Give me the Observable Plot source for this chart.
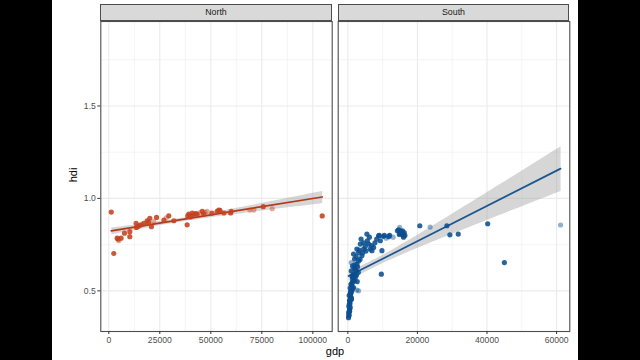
<!DOCTYPE html>
<html><head><meta charset="utf-8">
<script src="https://cdn.jsdelivr.net/npm/d3@7"></script>
<script src="https://cdn.jsdelivr.net/npm/@observablehq/plot@0.6"></script>
<style>
html,body{margin:0;padding:0;background:#000;width:640px;height:360px;overflow:hidden;font-family:"Liberation Sans",Arial,sans-serif;}
#page{position:absolute;left:52px;top:0;width:526px;height:360px;background:#fff;}
.strip{position:absolute;top:4px;height:17px;background:#d9d9d9;border:1px solid #4d4d4d;box-sizing:border-box;font-size:8.8px;color:#1a1a1a;text-align:center;line-height:15px;}
.holder{position:absolute;top:0;}
.title{position:absolute;font-size:11px;color:#000;}
</style></head>
<body>
<div id="page"></div>
<div class="strip" style="left:100.3px;width:231.4px;">North</div>
<div class="strip" style="left:337.7px;width:231.6px;">South</div>
<div class="holder" id="north" style="left:52px;"></div>
<div class="holder" id="south" style="left:335px;"></div>
<div class="title" style="left:320px;width:30px;text-align:center;top:345px;">gdp</div>
<div class="title" style="left:58px;top:169px;transform:rotate(-90deg);transform-origin:center;width:30px;text-align:center;">hdi</div>
<script>
const regions = ["North", "South"];
const northGdp = [1200,2450,4100,4900,4600,6000,7700,10300,10300,13400,13600,14500,15500,16200,17200,18800,19500,20100,20900,22000,23400,27000,28200,29400,31900,38400,38700,39200,40000,40900,41500,42500,43300,44500,45800,46500,47200,48200,50500,53100,53900,54500,56400,59700,60000,69100,71100,75700,80100,104600];
const northHdi = [0.926,0.702,0.785,0.771,0.78,0.785,0.812,0.82,0.793,0.865,0.843,0.85,0.856,0.86,0.865,0.879,0.87,0.892,0.847,0.875,0.897,0.883,0.895,0.906,0.879,0.857,0.905,0.915,0.9,0.921,0.91,0.918,0.915,0.922,0.93,0.915,0.925,0.93,0.92,0.93,0.937,0.935,0.921,0.921,0.93,0.937,0.937,0.955,0.944,0.905];
const northFaded = [0,0,0,1,0,0,0,0,0,0,0,0,0,1,0,0,0,0,0,1,0,0,1,0,0,0,0,0,0,0,0,0,0,1,0,0,1,1,0,0,0,0,0,0,0,1,1,0,1,0];
const southGdp = [200,300,250,500,690,400,600,490,800,980,690,900,1150,1300,1640,1150,2600,3090,1930,1500,1360,2200,1640,2500,980,2130,1800,1360,2800,980,2600,3090,1930,3500,2400,1640,3090,4040,2600,4530,3580,5480,5970,6460,6920,7410,8850,9340,9810,11740,14900,15570,9630,3800,4500,5000,5600,6200,6800,7800,8300,9000,10200,3300,4200,5200,2000,2400,1200,3000,2700,14250,15690,15970,15000,16200,20680,23650,28470,29330,31730,40200,45000,61150,
  350,450,300,600,550,700,400,850,750,1000,650,1100,900,1250,500,1400,1050,1600,
  10500,11000,12000,14600,15200,15800,16400,13000,15400,16000,14800];
const southHdi = [0.355,0.365,0.382,0.40,0.41,0.425,0.44,0.446,0.455,0.464,0.482,0.49,0.5,0.51,0.518,0.536,0.504,0.5,0.554,0.56,0.572,0.575,0.59,0.585,0.608,0.617,0.625,0.635,0.63,0.653,0.644,0.662,0.672,0.67,0.685,0.699,0.707,0.69,0.726,0.726,0.753,0.807,0.753,0.726,0.717,0.735,0.798,0.771,0.717,0.793,0.843,0.807,0.59,0.78,0.76,0.74,0.77,0.79,0.745,0.76,0.78,0.80,0.795,0.72,0.705,0.715,0.64,0.61,0.58,0.6,0.55,0.825,0.825,0.798,0.81,0.815,0.852,0.845,0.852,0.803,0.807,0.863,0.653,0.856,
  0.37,0.39,0.415,0.43,0.45,0.47,0.475,0.485,0.495,0.505,0.515,0.525,0.535,0.545,0.39,0.55,0.455,0.565,
  0.80,0.785,0.80,0.83,0.815,0.81,0.80,0.79,0.82,0.79,0.805];
const southFaded = [0,0,0,0,0,0,0,0,0,0,0,0,0,0,0,0,1,1,0,0,0,0,0,0,0,0,0,0,0,1,0,0,0,0,0,0,0,0,0,0,0,0,0,0,0,0,0,0,0,0,1,0,0,0,0,0,0,0,0,0,0,0,0,0,0,0,0,0,0,0,0,0,0,0,0,0,0,1,0,0,0,0,0,1,
  0,0,0,0,0,0,0,0,0,0,0,0,0,0,0,0,0,0,
  0,1,0,0,0,0,0,1,0,0,0];
const northTicks = [0,25000,50000,75000,100000];
const northMinor = [12500,37500,62500,87500];
const southTicks = [0,20000,40000,60000];
const southMinor = [10000,30000,50000];
const hdiTicks = [0.5,1.0,1.5];
const hdiMinor = [0.75,1.25,1.75];

const north = northGdp.map((g,i)=>({gdp:g, hdi:northHdi[i], faded:northFaded[i]}));
const south = southGdp.map((g,i)=>({gdp:g, hdi:southHdi[i], faded:southFaded[i]}));

const yDomain = [0.28, 1.957];
const grid = "#ebebeb";
function panel(data, opts){
  const marks = [
    Plot.gridX(opts.minor, {stroke:grid, strokeOpacity:1, strokeWidth:0.55}),
    Plot.gridY(hdiMinor, {stroke:grid, strokeOpacity:1, strokeWidth:0.55}),
    Plot.gridX(opts.ticks, {stroke:grid, strokeOpacity:1, strokeWidth:1.1}),
    Plot.gridY(hdiTicks, {stroke:grid, strokeOpacity:1, strokeWidth:1.1}),
    Plot.linearRegressionY(data, {x:"gdp", y:"hdi", stroke:opts.line, strokeWidth:1.7, fill:"#999999", fillOpacity:0.4}),
    Plot.dot(data.filter(d=>d.faded), {x:"gdp", y:"hdi", r:2.6, fill:opts.color, fillOpacity:0.45, stroke:"none"}),
    Plot.dot(data.filter(d=>!d.faded), {x:"gdp", y:"hdi", r:2.6, fill:opts.color, fillOpacity:0.88, stroke:"none"}),
    Plot.frame({stroke:"#4d4d4d", strokeWidth:1.1}),
    Plot.axisX(opts.ticks, {tickSize:3, tickPadding:2, fontSize:8.6, stroke:"#333", fill:"#4d4d4d", label:null, tickFormat:d3.format("d")})
  ];
  if (opts.yaxis) marks.push(Plot.axisY(hdiTicks, {tickSize:3, tickPadding:2, fontSize:8.6, stroke:"#333", fill:"#4d4d4d", label:null, tickFormat:d3.format(".1f")}));
  return Plot.plot({
    width: opts.width, height: 360,
    marginLeft: opts.ml, marginRight: opts.mr, marginTop: 21, marginBottom: 29,
    style:{fontFamily:"Liberation Sans, Arial, sans-serif", background:"transparent", overflow:"visible"},
    x:{domain: opts.xDomain},
    y:opts.yaxis ? {domain: yDomain} : {domain: yDomain, axis: null},
    marks
  });
}
document.getElementById("north").append(panel(north, {width:283, ml:48.3, mr:3.3, xDomain:[-3920,109500], ticks:northTicks, minor:northMinor, color:"#c3421f", line:"#b3381a", yaxis:true}));
document.getElementById("south").append(panel(south, {width:243, ml:2.7, mr:8.7, xDomain:[-2770,63800], ticks:southTicks, minor:southMinor, color:"#0b4f8f", line:"#1a5690", yaxis:false}));
</script>
</body></html>
